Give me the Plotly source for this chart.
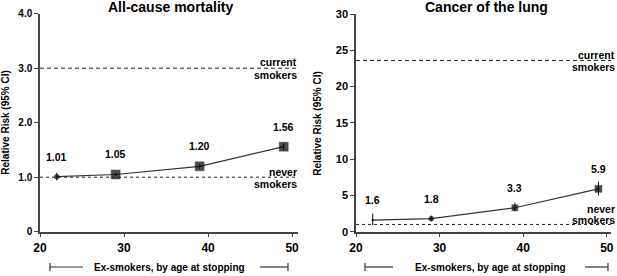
import plotly.graph_objects as go

W, H = 617, 276

# ---- data ----
ages = [22, 29, 39, 49]

allcause_rr = [1.01, 1.05, 1.20, 1.56]
allcause_lo = [0.94, 1.02, 1.16, 1.50]
allcause_hi = [1.08, 1.08, 1.24, 1.62]
allcause_labels = ["1.01", "1.05", "1.20", "1.56"]
allcause_current = 3.0
allcause_never = 1.0

lung_rr = [1.6, 1.8, 3.3, 5.9]
lung_lo = [0.9, 1.5, 2.8, 5.0]
lung_hi = [2.5, 2.2, 4.0, 6.9]
lung_labels = ["1.6", "1.8", "3.3", "5.9"]
lung_current = 23.6
lung_never = 1.0

titles = ["All-cause mortality", "Cancer of the lung"]
ytitle = "Relative Risk (95% CI)"
xtitle = "Ex-smokers, by age at stopping"
left_yticks = [0, 1, 2, 3, 4]
left_yticktext = ["0", "1.0", "2.0", "3.0", "4.0"]
right_yticks = [0, 5, 10, 15, 20, 25, 30]
right_yticktext = ["0", "5", "10", "15", "20", "25", "30"]
xticks = [20, 30, 40, 50]
xticktext = ["20", "30", "40", "50"]

# ---- layout helpers ----
def px_x(p):
    return p / W

def px_y(p):
    return 1 - p / H

FONT = "Liberation Sans, Arial, sans-serif"
AX = "#444444"
bold = lambda s: "<b>" + s + "</b>"

fig = go.Figure()

def add_series(xaxis, yaxis, rr, lo, hi, symbols, sizes):
    fig.add_trace(go.Scatter(
        x=ages, y=rr, xaxis=xaxis, yaxis=yaxis, mode="lines+markers",
        line=dict(color="#333333", width=1.2),
        marker=dict(symbol=symbols, size=sizes, color="black",
                    line=dict(color="black", width=0.5)),
        error_y=dict(type="data", symmetric=False,
                     array=[h - r for h, r in zip(hi, rr)],
                     arrayminus=[r - l for r, l in zip(rr, lo)],
                     color="#111111", thickness=1, width=0),
        showlegend=False, hoverinfo="skip"))

add_series("x", "y", allcause_rr, allcause_lo, allcause_hi,
           ["circle", "square", "square", "square"], [5, 9, 9, 9])
add_series("x2", "y2", lung_rr, lung_lo, lung_hi,
           ["circle", "circle", "square", "square"], [2, 5, 6, 7])

axis_common = dict(showgrid=False, zeroline=False, showline=True, linecolor=AX,
                   linewidth=1.5, ticks="outside", ticklen=4, tickcolor=AX,
                   tickwidth=1.2, automargin=False)

fig.update_layout(
    template="none",
    width=W, height=H, margin=dict(l=0, r=0, t=0, b=0, autoexpand=False),
    paper_bgcolor="white", plot_bgcolor="white",
    font=dict(family=FONT, color="black"),
    xaxis=dict(domain=[px_x(40), px_x(298)], range=[20, 50.7], tickvals=xticks,
               ticktext=[bold(t) for t in xticktext],
               anchor="y", tickfont=dict(size=12, family=FONT), **axis_common),
    yaxis=dict(domain=[px_y(231.7), px_y(13.7)], range=[0, 4], tickvals=left_yticks,
               ticktext=[bold(t) for t in left_yticktext], anchor="x",
               tickfont=dict(size=10, family=FONT), **axis_common),
    xaxis2=dict(domain=[px_x(356), px_x(611)], range=[20, 50.5], tickvals=xticks,
                ticktext=[bold(t) for t in xticktext],
                anchor="y2", tickfont=dict(size=12, family=FONT), **axis_common),
    yaxis2=dict(domain=[px_y(231.7), px_y(14)], range=[0, 30], tickvals=right_yticks,
                ticktext=[bold(t) for t in right_yticktext],
                anchor="x2", tickfont=dict(size=11, family=FONT), **axis_common),
)

# reference lines
fig.add_shape(type="line", xref="x domain", yref="y", x0=0, x1=1,
              y0=allcause_current, y1=allcause_current,
              line=dict(color="#222", width=1, dash="4px,3px"))
fig.add_shape(type="line", xref="x domain", yref="y", x0=0, x1=1,
              y0=allcause_never, y1=allcause_never,
              line=dict(color="#222", width=1, dash="dot"))
fig.add_shape(type="line", xref="x2 domain", yref="y2", x0=0, x1=1,
              y0=lung_current, y1=lung_current,
              line=dict(color="#222", width=1, dash="4px,3px"))
fig.add_shape(type="line", xref="x2 domain", yref="y2", x0=0, x1=1,
              y0=lung_never, y1=lung_never,
              line=dict(color="#222", width=1, dash="dot"))

ann = []

# value labels
for xs, ys, labs, xr, yr in [(ages, allcause_rr, allcause_labels, "x", "y"),
                             (ages, lung_rr, lung_labels, "x2", "y2")]:
    for a, v, t in zip(xs, ys, labs):
        ann.append(dict(x=a, y=v, xref=xr, yref=yr, text=bold(t), showarrow=False,
                        yshift=20, xanchor="center", yanchor="middle",
                        font=dict(size=10.5, family=FONT)))

# reference line labels
def side_label(text, xpx, yval, yr, shift):
    ann.append(dict(x=px_x(xpx), y=yval, xref="paper", yref=yr, text=bold(text),
                    showarrow=False, xanchor="right", yanchor="middle", yshift=shift,
                    font=dict(size=10.5, family=FONT)))

side_label("current", 299, allcause_current, "y", 6)
side_label("smokers", 299, allcause_current, "y", -7)
side_label("never", 299, allcause_never, "y", 5)
side_label("smokers", 299, allcause_never, "y", -7)
side_label("current", 617, lung_current, "y2", 5)
side_label("smokers", 617, lung_current, "y2", -7)
side_label("never", 617, lung_never, "y2", 15.5)
side_label("smokers", 617, lung_never, "y2", 4)

# titles
for t, cx in zip(titles, [170, 487]):
    ann.append(dict(x=px_x(cx), y=px_y(7), xref="paper", yref="paper", text=bold(t),
                    showarrow=False, xanchor="center", yanchor="middle",
                    font=dict(size=14, family=FONT)))

# y titles
for cx in [6, 318]:
    ann.append(dict(x=px_x(cx), y=px_y(122.7), xref="paper", yref="paper",
                    text=bold(ytitle), textangle=-90, showarrow=False,
                    xanchor="center", yanchor="middle",
                    font=dict(size=10, family=FONT)))

# bracket x titles
brackets = [(50, 83, 169, 260, 288), (365, 393, 490, 585, 608)]
yb = px_y(267)
for l0, l1, tc, r0, r1 in brackets:
    ann.append(dict(x=px_x(tc), y=yb, xref="paper", yref="paper", text=bold(xtitle),
                    showarrow=False, xanchor="center", yanchor="middle",
                    font=dict(size=10, family=FONT)))
    fig.add_shape(type="line", xref="paper", yref="paper", x0=px_x(l0), x1=px_x(l1),
                  y0=yb, y1=yb, line=dict(color="#333", width=1.2))
    fig.add_shape(type="line", xref="paper", yref="paper", x0=px_x(r0), x1=px_x(r1),
                  y0=yb, y1=yb, line=dict(color="#333", width=1.2))
    for cxp in (l0, r1):
        fig.add_shape(type="line", xref="paper", yref="paper", x0=px_x(cxp), x1=px_x(cxp),
                      y0=px_y(263), y1=px_y(271), line=dict(color="#333", width=1.2))

fig.update_layout(annotations=ann)
fig.write_html("out.html",
               config={"displayModeBar": False},
               post_script="document.body.style.margin='0';"
                           "document.body.style.overflow='hidden';")
